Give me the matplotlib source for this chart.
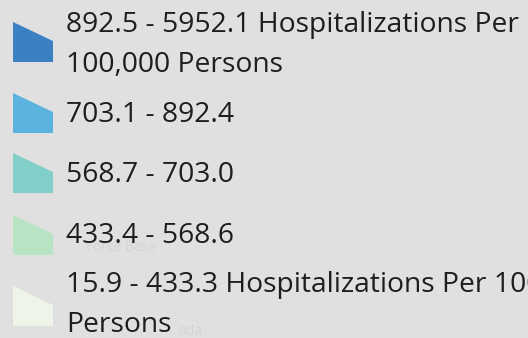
import matplotlib.pyplot as plt
from matplotlib.patches import Polygon

# legend classes, highest first
labels = [
    "892.5 - 5952.1 Hospitalizations Per\n100,000 Persons",
    "703.1 - 892.4",
    "568.7 - 703.0",
    "433.4 - 568.6",
    "15.9 - 433.3 Hospitalizations Per 100,000\nPersons",
]
colors = ["#3b80c2", "#5cb3de", "#80cfc9", "#b8e4c4", "#eef5e8"]

# pixel layout: swatch top (left edge) and first text baseline
swatch_tops = [22, 93, 153, 215, 286]
text_baselines = [32, 122, 182, 243, 292]
line_gap = 40

W, H = 528, 338
fig = plt.figure(figsize=(W / 100, H / 100), dpi=100)
fig.patch.set_facecolor("#e1e0e0")
ax = fig.add_axes([0, 0, 1, 1])
ax.set_xlim(0, W)
ax.set_ylim(H, 0)
ax.axis("off")

# faint basemap labels showing through the legend
ax.text(86, 251, "Force Base", fontsize=10, color="#d5d4d4", family="Open Sans", va="baseline")
ax.text(178, 335, "ada", fontsize=10, color="#d5d4d4", family="Open Sans", va="baseline")

for lab, col, top, base in zip(labels, colors, swatch_tops, text_baselines):
    # clipped swatch: sloped top edge, full-height left side
    pts = [(13, top), (53, top + 19), (53, top + 40), (13, top + 40)]
    ax.add_patch(Polygon(pts, closed=True, facecolor=col, edgecolor="none"))
    for i, line in enumerate(lab.split("\n")):
        ax.text(66, base + i * line_gap, line, fontsize=20.3, color="#1e1e1e",
                family="Open Sans", va="baseline", ha="left")

fig.savefig("out.png", dpi=100)
